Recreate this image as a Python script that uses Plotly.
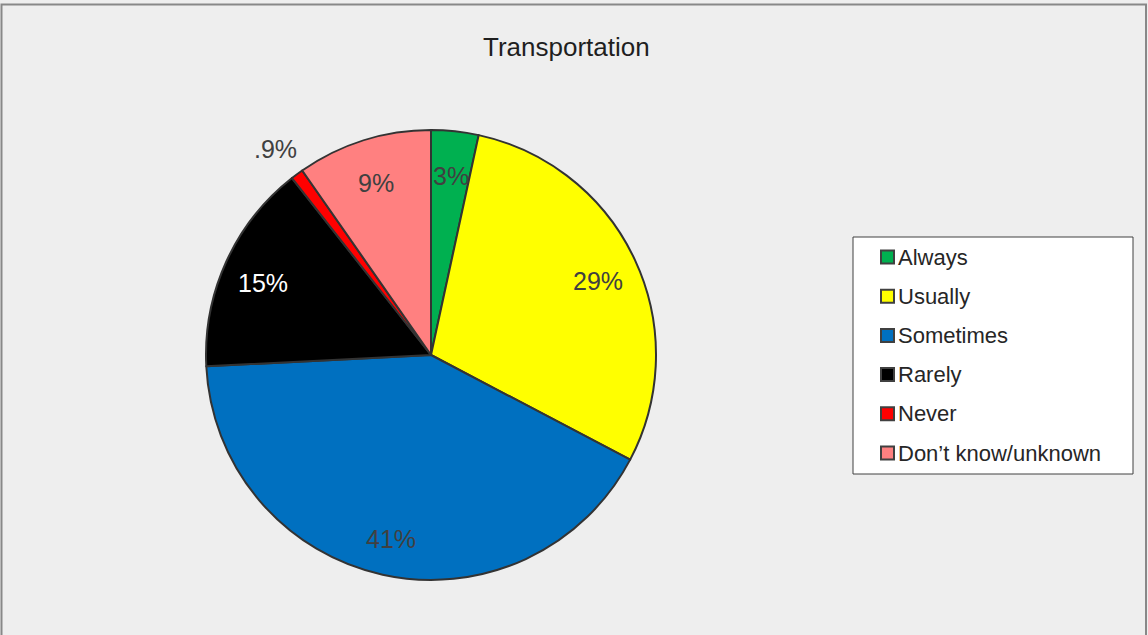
import math
import plotly.graph_objects as go

title = "Transportation"
categories = ["Always", "Usually", "Sometimes", "Rarely", "Never", "Don\u2019t know/unknown"]
values = [3.4, 29.3, 41.5, 15.2, 0.9, 9.7]
label_texts = ["3%", "29%", "41%", "15%", ".9%", "9%"]
colors = ["#00B050", "#FFFF00", "#0070C0", "#000000", "#FF0000", "#FF8080"]
label_colors = ["#404040", "#404040", "#404040", "#FFFFFF", "#404040", "#404040"]
outside = [False, False, False, False, True, False]

W, H = 1148, 635
FONT = "Liberation Sans, Arial, sans-serif"

# pie placement (pixels)
cx, cy, R = 431, 355, 225


def px(x):
    return x / W


def py(y):
    return 1 - y / H


fig = go.Figure()
fig.add_trace(go.Pie(
    labels=categories,
    values=values,
    sort=False,
    direction="clockwise",
    rotation=0,
    marker=dict(colors=colors, line=dict(color="#333333", width=2)),
    textinfo="none",
    hoverinfo="label+percent",
    showlegend=False,
    domain=dict(x=[px(cx - R), px(cx + R)], y=[py(cy + R), py(cy - R)]),
))

annotations = []
shapes = []

# slice labels, placed from cumulative values
total = sum(values)
cum = 0.0
for v, t, c, out in zip(values, label_texts, label_colors, outside):
    mid = (cum + v / 2) / total * 2 * math.pi
    cum += v
    r = R * (1.16 if out else 0.82)
    x = cx + r * math.sin(mid)
    y = cy - r * math.cos(mid) + 4
    annotations.append(dict(
        x=px(x), y=py(y), xref="paper", yref="paper", text=t, showarrow=False,
        font=dict(family=FONT, size=25, color=c), xanchor="center", yanchor="middle",
    ))

# title
annotations.append(dict(
    x=px(566), y=py(47), xref="paper", yref="paper", text=title, showarrow=False,
    font=dict(family=FONT, size=26, color="#1F1F1F"), xanchor="center", yanchor="middle",
))

# outer chart border
shapes.append(dict(type="rect", xref="paper", yref="paper",
                   x0=px(1.5), x1=px(1146), y0=py(640), y1=py(4.5),
                   line=dict(color="#888888", width=2), fillcolor="rgba(0,0,0,0)"))

# legend box
lx0, ly0, lx1, ly1 = 853, 237, 1133, 474
shapes.append(dict(type="rect", xref="paper", yref="paper",
                   x0=px(lx0), x1=px(lx1), y0=py(ly1), y1=py(ly0),
                   line=dict(color="#404040", width=1), fillcolor="#FFFFFF"))
step = 39.2
for i, (cat, col) in enumerate(zip(categories, colors)):
    yc = 257 + i * step
    shapes.append(dict(type="rect", xref="paper", yref="paper",
                       x0=px(881), x1=px(894), y0=py(yc + 6.5), y1=py(yc - 6.5),
                       line=dict(color="#404040", width=2), fillcolor=col))
    annotations.append(dict(
        x=px(896), y=py(yc), xref="paper", yref="paper", text=cat, showarrow=False,
        font=dict(family=FONT, size=22, color="#262626"), xanchor="left", yanchor="middle",
    ))

fig.update_layout(
    width=W, height=H,
    margin=dict(l=0, r=0, t=0, b=0),
    paper_bgcolor="#EEEEEE",
    plot_bgcolor="#EEEEEE",
    annotations=annotations,
    shapes=shapes,
    showlegend=False,
)

fig.write_html("out.html", config={"displayModeBar": False})

# remove the default page margin so the figure sits at the window's origin
with open("out.html", "r", encoding="utf-8") as f:
    html = f.read()
html = html.replace("<body>", '<body style="margin:0;padding:0;background:#EEEEEE;">', 1)
with open("out.html", "w", encoding="utf-8") as f:
    f.write(html)
